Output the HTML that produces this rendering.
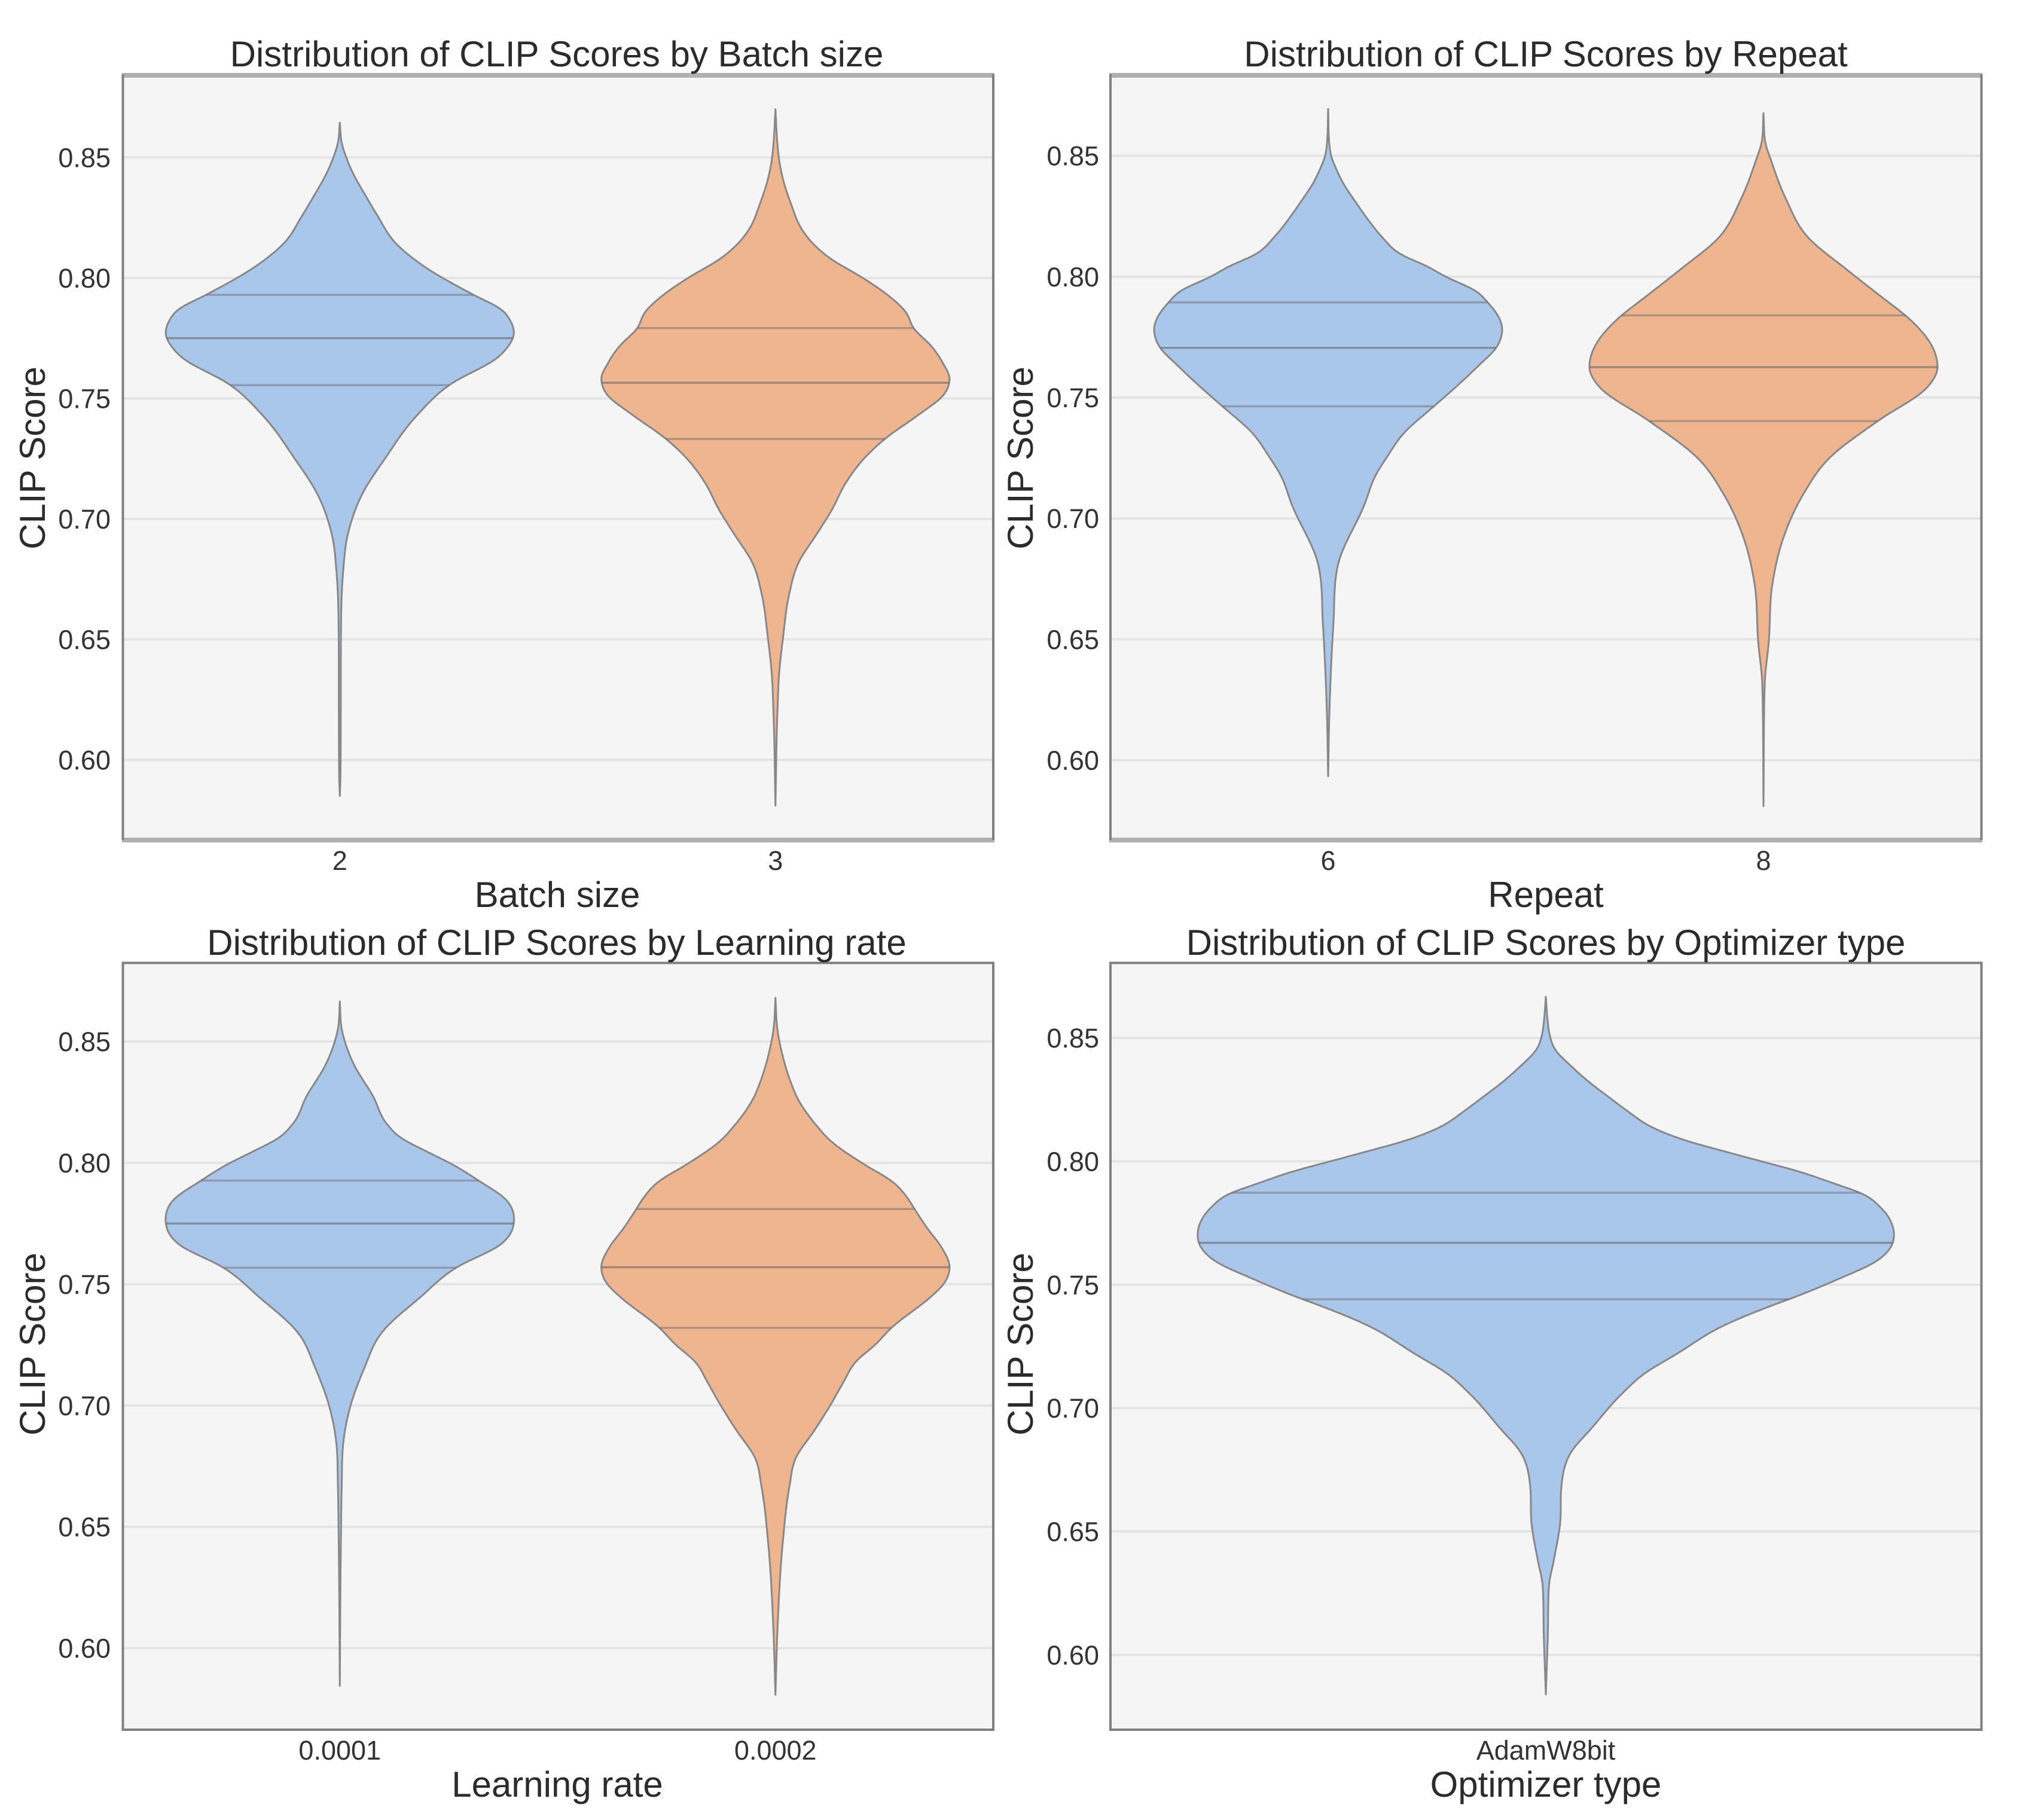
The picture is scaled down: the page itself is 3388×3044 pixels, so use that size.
<!DOCTYPE html>
<html lang="en">
<head>
<meta charset="utf-8">
<title>Distribution of CLIP Scores</title>
<style>
html,body{margin:0;padding:0;background:#fff;}
svg{display:block;font-family:"Liberation Sans",Arial,sans-serif;}
.title,.axis-label{font-size:60px;fill:#2b2b2b;text-anchor:middle;}
.spine{stroke:#808080;stroke-width:4;}
.spine-soft{stroke:#b0b0b0;stroke-width:8;}
.bg{fill:#f5f5f5;}
</style>
</head>
<body>
<svg id="figure" xmlns="http://www.w3.org/2000/svg" width="3388" height="3044" viewBox="0 0 3388 3044">
  <rect x="0" y="0" width="3388" height="3044" fill="#fff"/>

  <g id="panel-batch">
    <rect class="bg" x="204" y="126" width="1457" height="1279"/>
    <g id="marks-batch"></g>
    <line class="spine-soft" x1="204" y1="126" x2="1663" y2="126"/>
    <line class="spine-soft" x1="204" y1="1405" x2="1663" y2="1405"/>
    <line class="spine" x1="205.5" y1="124" x2="205.5" y2="1405"/>
    <line class="spine" x1="1661" y1="124" x2="1661" y2="1405"/>
    <text class="title" x="931" y="111">Distribution of CLIP Scores by Batch size</text>
    <text class="axis-label" x="932" y="1517">Batch size</text>
    <text class="axis-label" transform="translate(75,766) rotate(-90)">CLIP Score</text>
  </g>

  <g id="panel-repeat">
    <rect class="bg" x="1857" y="126" width="1456" height="1279"/>
    <g id="marks-repeat"></g>
    <line class="spine-soft" x1="1855" y1="126" x2="3315" y2="126"/>
    <line class="spine-soft" x1="1855" y1="1405" x2="3315" y2="1405"/>
    <line class="spine" x1="1857" y1="124" x2="1857" y2="1405"/>
    <line class="spine" x1="3313.5" y1="124" x2="3313.5" y2="1405"/>
    <text class="title" x="2585" y="111">Distribution of CLIP Scores by Repeat</text>
    <text class="axis-label" x="2585" y="1517">Repeat</text>
    <text class="axis-label" transform="translate(1727,766) rotate(-90)">CLIP Score</text>
  </g>

  <g id="panel-learning">
    <rect class="bg" x="204" y="1610.5" width="1457" height="1282.5"/>
    <g id="marks-learning"></g>
    <line class="spine" x1="204" y1="1610.5" x2="1663" y2="1610.5"/>
    <line class="spine" x1="204" y1="2893" x2="1663" y2="2893"/>
    <line class="spine" x1="205.5" y1="1609" x2="205.5" y2="2895"/>
    <line class="spine" x1="1661" y1="1609" x2="1661" y2="2895"/>
    <text class="title" x="931" y="1597">Distribution of CLIP Scores by Learning rate</text>
    <text class="axis-label" x="932" y="3005">Learning rate</text>
    <text class="axis-label" transform="translate(75,2248) rotate(-90)">CLIP Score</text>
  </g>

  <g id="panel-optimizer">
    <rect class="bg" x="1857" y="1610.5" width="1456" height="1282.5"/>
    <g id="marks-optimizer"></g>
    <line class="spine" x1="1855" y1="1610.5" x2="3315" y2="1610.5"/>
    <line class="spine" x1="1855" y1="2893" x2="3315" y2="2893"/>
    <line class="spine" x1="1857" y1="1609" x2="1857" y2="2895"/>
    <line class="spine" x1="3313.5" y1="1609" x2="3313.5" y2="2895"/>
    <text class="title" x="2585" y="1597">Distribution of CLIP Scores by Optimizer type</text>
    <text class="axis-label" x="2585" y="3005">Optimizer type</text>
    <text class="axis-label" transform="translate(1727,2248) rotate(-90)">CLIP Score</text>
  </g>
</svg>

<script>
// ---- Shared tick data ----
const yTickValues = [0.60, 0.65, 0.70, 0.75, 0.80, 0.85];
const yTickLabels = ["0.60", "0.65", "0.70", "0.75", "0.80", "0.85"];

// ---- Categories ----
const batchCategories = ["2", "3"];
const repeatCategories = ["6", "8"];
const learningCategories = ["0.0001", "0.0002"];
const optimizerCategories = ["AdamW8bit"];

// ---- Y-axis domains [bottom, top] ----
const batchDomain = [0.5667, 0.8841];
const repeatDomain = [0.5670, 0.8833];
const learningDomain = [0.5664, 0.8824];
const optimizerDomain = [0.5697, 0.8804];

// ---- Violin profiles: CLIP score, relative density (100 = peak), quartiles ----
const batch2Scores = [.8645,.856,.850,.841,.836,.826,.814,.804,.793,.787,.782,.777,.772,.767,.756,.7425,.725,.7105,.693,.678,.656,.5946,.585];
const batch2Density = [0,1.1,3.7,9.3,13.3,21.5,32.6,50,76.7,92.6,98.1,100,97,90.7,63.7,43.7,25.9,13,4.4,1.9,.7,.4,0];
const batch2Quartiles = [.7555,.775,.793];

const batch3Scores = [.870,.856,.8485,.8405,.8304,.8202,.8142,.8081,.80,.7919,.7858,.7792,.7717,.7636,.7585,.7514,.7433,.7332,.7251,.715,.7038,.6937,.6818,.6685,.651,.6365,.619,.581];
const batch3Density = [0,1.1,2.2,4.5,9.1,15.1,21.6,31.4,50.2,66.2,74.9,79.2,89.5,96.9,100,96.5,82.3,62.8,50.9,40.4,32.4,23.7,13.2,7.8,4.4,2.2,1.1,0];
const batch3Quartiles = [.7332,.7565,.7792];

const repeat6Scores = [.8694,.855,.85,.8448,.8387,.8316,.8245,.8164,.8092,.8042,.8001,.794,.7894,.7838,.7783,.7706,.7635,.7534,.7464,.7351,.7259,.7178,.7058,.6807,.6561,.6192,.5934];
const repeat6Density = [0,.7,1.7,4.5,8.6,15.1,22,31,41.8,57.2,67.2,85.1,91.6,97.6,100,96.5,86.8,71.8,60.7,43.2,34.2,27.2,20.9,5.6,3,.7,0];
const repeat6Quartiles = [.7464,.7706,.7894];

const repeat8Scores = [.8677,.8554,.848,.832,.816,.8032,.7902,.784,.7693,.7626,.7545,.7403,.725,.7102,.693,.6733,.6487,.6315,.581];
const repeat8Density = [0,1.1,4.4,13,25.9,47.4,70.4,81.5,98.1,100,94.4,65.6,37.8,23,11.9,5.2,3,.7,0];
const repeat8Quartiles = [.7403,.7626,.784];

const lr1Scores = [.8665,.8551,.849,.8405,.8272,.8163,.8102,.8053,.7993,.7927,.7847,.7767,.7665,.7568,.7447,.7301,.7155,.6985,.684,.667,.6427,.5845];
const lr1Density = [0,1.1,3.3,8.1,19.3,26.7,35.2,48.1,64.8,79.6,95.6,100,92.6,66.7,46.3,24.1,14.1,5.6,1.9,1.1,.6,0];
const lr1Quartiles = [.7568,.775,.7927];

const lr2Scores = [.868,.8551,.8454,.835,.825,.815,.809,.8,.792,.785,.781,.773,.765,.757,.75,.745,.732,.725,.718,.71,.7,.69,.678,.667,.6427,.6063,.5808];
const lr2Density = [0,1.1,3.7,7.9,13.9,24,31.7,49.5,67.6,76.3,79.8,87.2,95.5,100,96.5,89.5,66.5,57.2,46,39.3,31.4,22.6,11.4,8.1,4.1,1.1,0];
const lr2Quartiles = [.732,.757,.781];

const adamScores = [.8667,.856,.8512,.8446,.8396,.8317,.8257,.8198,.8139,.8084,.804,.80,.796,.7906,.7871,.7812,.7733,.7703,.7644,.7594,.7525,.7455,.7411,.7337,.7218,.7139,.7059,.6913,.6825,.6687,.6532,.6377,.6281,.6091,.584];
const adamDensity = [0,.6,1.1,3,6.5,12.8,18.4,24,30.3,40.2,51.4,61.9,72.4,83.6,90.6,96.2,99.7,100,98.7,94.8,84.3,72.4,64,51.4,37.4,28.2,21.9,12.8,7.4,4.5,4.1,2.2,.9,.6,0];
const adamQuartiles = [.7441,.767,.7873];

// ---- Drawing ----
const NS = "http://www.w3.org/2000/svg";
const PEAK_DENSITY = 100;
const VIOLIN_WIDTH = 0.8;
const KERNEL_REACH = 0.002;
const FILL_BLUE = "#a8c7ea";
const FILL_ORANGE = "#efb58e";

function mk(tag, attrs, parent) {
  const el = document.createElementNS(NS, tag);
  for (const k in attrs) el.setAttribute(k, attrs[k]);
  parent.appendChild(el);
  return el;
}

// Smooth density curve through the read-off points, lightly kernel-smoothed like a KDE.
function profile(scores, density) {
  const xs = scores.map(Number), ys = density.map(Number);
  const order = xs.map((_, i) => i).sort((a, b) => xs[a] - xs[b]);
  const X = order.map(i => xs[i]), Y = order.map(i => ys[i]);
  const n = X.length, h = [], d = [], m = new Array(n);
  for (let i = 0; i < n - 1; i++) {
    h.push(Math.max(1e-9, X[i + 1] - X[i]));
    d.push((Y[i + 1] - Y[i]) / h[i]);
  }
  m[0] = d[0];
  m[n - 1] = d[n - 2];
  for (let i = 1; i < n - 1; i++) {
    const s = (d[i - 1] * h[i] + d[i] * h[i - 1]) / (h[i - 1] + h[i]);
    const lim = 3 * Math.min(Math.abs(d[i - 1]), Math.abs(d[i]));
    m[i] = d[i - 1] * d[i] <= 0 ? 0 : Math.sign(s) * Math.min(Math.abs(s), lim);
  }
  const raw = v => {
    if (v <= X[0]) return Y[0];
    if (v >= X[n - 1]) return Y[n - 1];
    let i = 0;
    while (v > X[i + 1]) i++;
    const t = (v - X[i]) / h[i], t2 = t * t, t3 = t2 * t;
    return Math.max(0, (2 * t3 - 3 * t2 + 1) * Y[i] + (t3 - 2 * t2 + t) * h[i] * m[i] + (-2 * t3 + 3 * t2) * Y[i + 1] + (t3 - t2) * h[i] * m[i + 1]);
  };
  const f = v => {
    let sum = 0, tot = 0;
    for (let k = -4; k <= 4; k++) {
      const wt = 5 - Math.abs(k);
      sum += wt * raw(v + k / 4 * KERNEL_REACH);
      tot += wt;
    }
    return sum / tot;
  };
  f.min = X[0];
  f.max = X[n - 1];
  return f;
}

function drawPanel(cfg) {
  const g = document.getElementById(cfg.group);
  const yScale = v => cfg.bottom - (v - cfg.domain[0]) / (cfg.domain[1] - cfg.domain[0]) * (cfg.bottom - cfg.top);
  const band = (cfg.right - cfg.left) / cfg.categories.length;
  const xScale = i => cfg.left + band * (i + 0.5);
  const halfWidth = dens => dens / PEAK_DENSITY * band * VIOLIN_WIDTH / 2;

  yTickValues.forEach((v, i) => {
    const line = mk("line", {x1: cfg.left, x2: cfg.right, y1: yScale(v), y2: yScale(v), stroke: "#e4e4e4", "stroke-width": 4}, g);
    
    
    const tick = mk("text", {x: cfg.left - 19, y: yScale(v) + 16, "text-anchor": "end", "font-size": 45, fill: "#333"}, g);
    tick.textContent = yTickLabels[i];
    
    
  });

  cfg.categories.forEach((cat, i) => {
    const series = cfg.series[i];
    const f = profile(series.scores, series.density);
    const cx = xScale(i);
    const right = [], left = [];
    const steps = 500;
    for (let s = 0; s <= steps; s++) {
      const v = f.max - (f.max - f.min) * s / steps;
      const edge = s === 0 || s === steps;
      const w = edge ? 0 : halfWidth(f(v));
      const y = yScale(v).toFixed(1);
      right.push((cx + w).toFixed(1) + "," + y);
      left.unshift((cx - w).toFixed(1) + "," + y);
    }
    const violin = mk("polygon", {points: right.concat(left).join(" "), fill: series.color, stroke: "#888", "stroke-width": 3, "stroke-linejoin": "round"}, g);
    
    

    series.quartiles.forEach((q, k) => {
      const w = halfWidth(f(q));
      const ql = mk("line", {x1: cx - w, x2: cx + w, y1: yScale(q), y2: yScale(q), stroke: "#707070", "stroke-opacity": k === 1 ? 0.65 : 0.5, "stroke-width": 3.5}, g);
      
      
    });

    const label = mk("text", {x: cx, y: cfg.bottom + cfg.xTickGap, "text-anchor": "middle", "font-size": 45, fill: "#333"}, g);
    label.textContent = cat;
    
    
  });
}

drawPanel({group: "marks-batch", left: 204, right: 1661, top: 126, bottom: 1405, xTickGap: 50, domain: batchDomain, categories: batchCategories,
  series: [{scores: batch2Scores, density: batch2Density, quartiles: batch2Quartiles, color: FILL_BLUE},
           {scores: batch3Scores, density: batch3Density, quartiles: batch3Quartiles, color: FILL_ORANGE}]});
drawPanel({group: "marks-repeat", left: 1857, right: 3313, top: 126, bottom: 1405, xTickGap: 50, domain: repeatDomain, categories: repeatCategories,
  series: [{scores: repeat6Scores, density: repeat6Density, quartiles: repeat6Quartiles, color: FILL_BLUE},
           {scores: repeat8Scores, density: repeat8Density, quartiles: repeat8Quartiles, color: FILL_ORANGE}]});
drawPanel({group: "marks-learning", left: 204, right: 1661, top: 1610.5, bottom: 2893, xTickGap: 50, domain: learningDomain, categories: learningCategories,
  series: [{scores: lr1Scores, density: lr1Density, quartiles: lr1Quartiles, color: FILL_BLUE},
           {scores: lr2Scores, density: lr2Density, quartiles: lr2Quartiles, color: FILL_ORANGE}]});
drawPanel({group: "marks-optimizer", left: 1857, right: 3313, top: 1610.5, bottom: 2893, xTickGap: 50, domain: optimizerDomain, categories: optimizerCategories,
  series: [{scores: adamScores, density: adamDensity, quartiles: adamQuartiles, color: FILL_BLUE}]});
</script>
</body>
</html>
